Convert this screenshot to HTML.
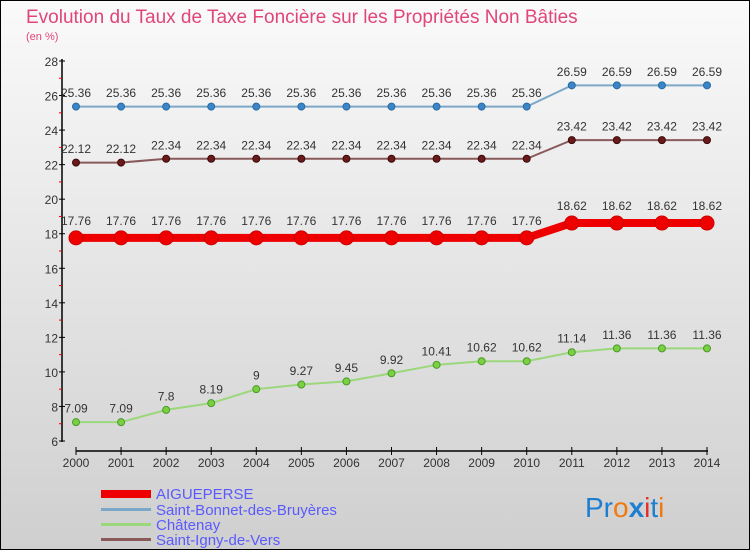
<!DOCTYPE html>
<html><head><meta charset="utf-8"><style>
body{margin:0}
#c{width:748px;height:548px;border:1px solid #000;background:linear-gradient(#fafafa,#cfcfcf);position:relative;font-family:"Liberation Sans","DejaVu Sans",sans-serif}
</style></head><body>
<div id="c">
<svg id="s" width="748" height="548" xmlns="http://www.w3.org/2000/svg" font-family="Liberation Sans, DejaVu Sans, sans-serif">
<text x="25" y="22" font-size="19" fill="#e0457b">Evolution du Taux de Taxe Foncière sur les Propriétés Non Bâties</text>
<text x="25" y="39" font-size="11" fill="#e0457b">(en %)</text>
<g id="g"></g>
<g font-size="15" fill="#5a5aff">
<rect x="100" y="489" width="50" height="8" fill="#ee0000"/>
<text x="155" y="498">AIGUEPERSE</text>
<rect x="100" y="507" width="50" height="3" fill="#7ba7c9"/>
<text x="155" y="514">Saint-Bonnet-des-Bruyères</text>
<rect x="100" y="522" width="50" height="3" fill="#9bd77b"/>
<text x="155" y="529">Châtenay</text>
<rect x="100" y="537" width="50" height="3" fill="#8a5a5a"/>
<text x="155" y="544">Saint-Igny-de-Vers</text>
</g>
<text x="584" y="516" font-size="28"><tspan fill="#1e7fd0">Pr</tspan><tspan fill="#f07a10">o</tspan><tspan fill="#1e7fd0" font-weight="bold">x</tspan><tspan fill="#e03030">i</tspan><tspan fill="#1e7fd0">t</tspan><tspan fill="#f07a10">i</tspan></text>
</svg></div>
<script>
const years=[2000,2001,2002,2003,2004,2005,2006,2007,2008,2009,2010,2011,2012,2013,2014];
const aigueperse=[17.76,17.76,17.76,17.76,17.76,17.76,17.76,17.76,17.76,17.76,17.76,18.62,18.62,18.62,18.62];
const stBonnet=[25.36,25.36,25.36,25.36,25.36,25.36,25.36,25.36,25.36,25.36,25.36,26.59,26.59,26.59,26.59];
const chatenay=[7.09,7.09,7.8,8.19,9,9.27,9.45,9.92,10.41,10.62,10.62,11.14,11.36,11.36,11.36];
const stIgny=[22.12,22.12,22.34,22.34,22.34,22.34,22.34,22.34,22.34,22.34,22.34,23.42,23.42,23.42,23.42];
const yTicks=[6,8,10,12,14,16,18,20,22,24,26,28];
const NS="http://www.w3.org/2000/svg";
const g=document.getElementById('g');
const X=i=>75+i*(631/14);
const Y=v=>440-(v-6)*(380/22);
function el(t,a){const e=document.createElementNS(NS,t);for(const k in a)e.setAttribute(k,a[k]);g.appendChild(e);return e;}
let e=el('line',{x1:61,y1:58,x2:61,y2:441,stroke:'#000','stroke-width':1.5});


e=el('line',{x1:75,y1:450,x2:707,y2:450,stroke:'#000','stroke-width':1.5});


yTicks.forEach(v=>{
 el('line',{x1:58,x2:64,y1:Y(v),y2:Y(v),stroke:'#000'});
 if(v<28)el('line',{x1:58,x2:61,y1:Y(v+1),y2:Y(v+1),stroke:'#e00'});
 const t=el('text',{x:57,y:Y(v)+5,'font-size':12,'text-anchor':'end',fill:'#333'});
 t.textContent=v;
 
 
});
years.forEach((y,i)=>{
 el('line',{x1:X(i),x2:X(i),y1:446,y2:454,stroke:'#000'});
 const t=el('text',{x:X(i),y:466,'font-size':12,'text-anchor':'middle',fill:'#333'});
 t.textContent=y;
 
 
});
function series(arr,name,col,lw,dot,dotcol,r){
 const p=el('polyline',{points:arr.map((v,i)=>X(i)+','+Y(v)).join(' '),fill:'none',stroke:col,'stroke-width':lw});
 
 
 arr.forEach((v,i)=>{
  const c=el('circle',{cx:X(i),cy:Y(v),r:r,fill:dotcol,stroke:dot,'stroke-width':1});
  
  
  const t=el('text',{x:X(i),y:Y(v)-(r+6),'font-size':12,'text-anchor':'middle',fill:'#333'});
  t.textContent=v;
  
  
 });
}
series(stBonnet,'saint-bonnet','#7ba7c9',2,'#2a6aa0','#3a86c8',3.5);
series(stIgny,'saint-igny','#8a5a5a',2,'#3a0a0a','#6a1a1a',3.5);
series(chatenay,'chatenay','#9bd77b',2,'#4a9a2a','#7ad040',3.5);
series(aigueperse,'aigueperse','#ee0000',8,'#cc0000','#ee0000',7);
</script>
</body></html>
